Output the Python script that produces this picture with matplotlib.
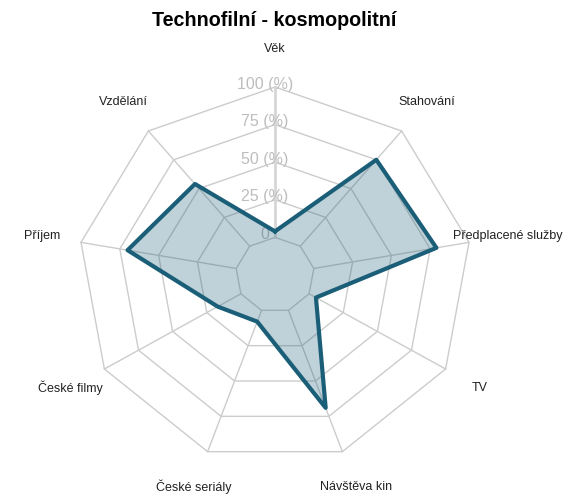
import numpy as np
import matplotlib.pyplot as plt

plt.rcParams['font.family'] = ['Liberation Sans', 'DejaVu Sans']

# data
axis_names = ['Věk', 'Stahování', 'Předplacené služby', 'TV', 'Návštěva kin',
              'České seriály', 'České filmy', 'Příjem', 'Vzdělání']
values = [4, 75, 79, 5, 69, 8, 17, 70, 54]
grid_levels = [0, 25, 50, 75, 100]
grid_labels = ['0', '25 (%)', '50 (%)', '75 (%)', '100 (%)']

line_col = '#1B5E78'
grid_col = '#cccccc'

W, H = 568, 499
fig = plt.figure(figsize=(W / 100, H / 100), dpi=100)
ax = fig.add_axes([0, 0, 1, 1])
ax.axis('off')

# pixel scale of unit radius (slightly squashed vertically like the original)
sx, sy = 197.0, 188.0
cx, cy = 275.0, 275.0  # centre in pixels from top-left
ax.set_xlim(-cx / sx, (W - cx) / sx)
ax.set_ylim(-(H - cy) / sy, cy / sy)

n = len(axis_names)
ang = np.deg2rad(90 - 40 * np.arange(n))
ang_c = np.append(ang, ang[0])


def rad(v):
    # ring "0" sits at 1/5 of the radius
    return (np.asarray(v, float) + 25) / 125


# grid rings
for lv in grid_levels:
    r = rad(lv)
    ax.plot(r * np.cos(ang_c), r * np.sin(ang_c), color=grid_col, lw=1.0, zorder=1)

# spokes
r0, r1 = rad(0), rad(100)
for i, a in enumerate(ang):
    lw, c = (2.0, '#d6d6d6') if i == 0 else (1.0, grid_col)
    ax.plot([r0 * np.cos(a), r1 * np.cos(a)], [r0 * np.sin(a), r1 * np.sin(a)],
            color=c, lw=lw, zorder=1)

# ring labels
for lv, lab in zip(grid_levels, grid_labels):
    ax.text(-10 / sx, rad(lv) + 3 / sy, lab, ha='center', va='center',
            fontsize=11.5, color='#bdbdbd', zorder=2)

# data polygon
rv = rad(values)
xs = np.append(rv * np.cos(ang), rv[0] * np.cos(ang[0]))
ys = np.append(rv * np.sin(ang), rv[0] * np.sin(ang[0]))
ax.fill(xs, ys, color=line_col, alpha=0.28, lw=0, zorder=3)
ax.plot(xs, ys, color=line_col, lw=3.0, solid_joinstyle='round', zorder=4)

# axis labels
for name, a in zip(axis_names, ang):
    ax.text(1.2 * np.cos(a), 1.2 * np.sin(a), name, ha='center', va='center',
            fontsize=9, color='#222222')

fig.text(274.5 / W, 1 - 26 / H, 'Technofilní - kosmopolitní', ha='center',
         va='baseline', fontsize=14.2, fontweight='bold', color='black')

fig.savefig('out.png', dpi=100)
